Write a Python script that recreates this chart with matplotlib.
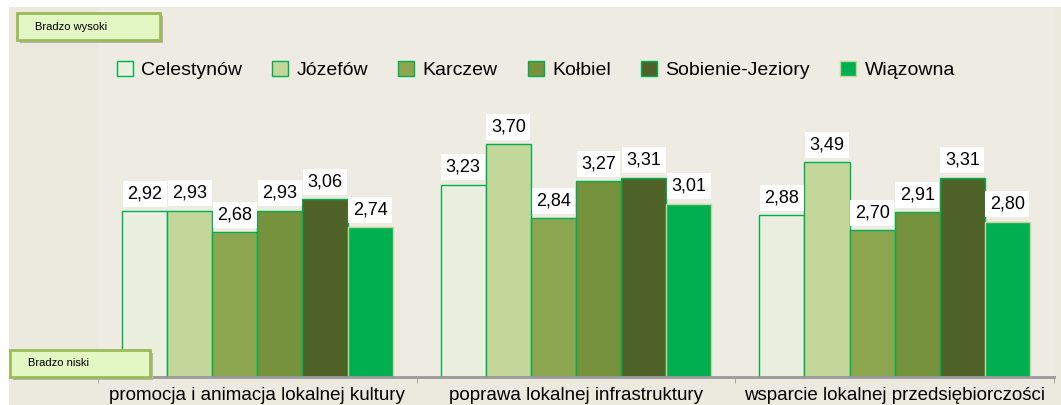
import numpy as np
import matplotlib.pyplot as plt
from matplotlib.patches import Rectangle

plt.rcParams['font.family'] = ['Liberation Sans', 'DejaVu Sans']

categories = ['promocja i animacja lokalnej kultury',
              'poprawa lokalnej infrastruktury',
              'wsparcie lokalnej przedsiębiorczości']
gminy = ['Celestynów', 'Józefów', 'Karczew', 'Kołbiel', 'Sobienie-Jeziory', 'Wiązowna']

celestynow = [2.92, 3.23, 2.88]
jozefow = [2.93, 3.70, 3.49]
karczew = [2.68, 2.84, 2.70]
kolbiel = [2.93, 3.27, 2.91]
sobienie = [3.06, 3.31, 3.31]
wiazowna = [2.74, 3.01, 2.80]

series = [celestynow, jozefow, karczew, kolbiel, sobienie, wiazowna]
colors = ['#EBEFDF', '#C4D79B', '#8CA650', '#76923C', '#4F6228', '#00B050']
edges = ['#00B050', '#00B050', '#00B050', '#00B050', '#00B050', '#C4D79B']

W, H = 1061, 405
fig = plt.figure(figsize=(W / 100, H / 100), dpi=100)
fig.patch.set_facecolor('white')

# beige panel behind everything
fig.patches.append(Rectangle((9 / W, 0), 1 - 9 / W, 1 - 7 / H, transform=fig.transFigure,
                             facecolor='#ECE9DF', edgecolor='none', zorder=-5))

ax = fig.add_axes([98 / W, 28 / H, (1054 - 98) / W, (377 - 8) / H])
ax.set_facecolor('#EEEBE2')

x = np.arange(len(categories))
w = 0.1415
for i, (vals, name) in enumerate(zip(series, gminy)):
    pos = x + (i - 2.5) * w
    ax.bar(pos, np.array(vals) - 1, bottom=1, width=w, color=colors[i],
           edgecolor=edges[i], linewidth=1, label=name, zorder=2)
    for xp, v in zip(pos, vals):
        ax.annotate(f'{v:.2f}'.replace('.', ','), (xp, v), xytext=(0, 12.5),
                    textcoords='offset points', ha='center', va='center',
                    fontsize=13, color='black', zorder=4,
                    bbox=dict(boxstyle='square,pad=0.25', fc='white', ec='none'))

ax.set_xlim(-0.5, 2.5)
ax.set_ylim(1, 5.28)
ax.set_yticks([])
for s in ['left', 'right', 'top']:
    ax.spines[s].set_visible(False)
ax.spines['bottom'].set_color('#9A9A9A')
ax.spines['bottom'].set_linewidth(2)
ax.set_xticks(x)
ax.set_xticklabels(categories, fontsize=13.5)
ax.tick_params(axis='x', which='major', length=0, pad=7)
ax.set_xticks([-0.5, 0.5, 1.5, 2.5], minor=True)
ax.tick_params(axis='x', which='minor', length=4, color='#9A9A9A', direction='out')

fig.legend(loc='center', bbox_to_anchor=(536 / W, 1 - 70 / H), ncol=6, frameon=False,
           fontsize=14, handlelength=0.8, handleheight=0.8, columnspacing=1.55,
           handletextpad=0.45)

# "Bradzo wysoki" / "Bradzo niski" boxes
def label_box(x0, y0, x1, y1, text):
    fig.patches.append(Rectangle(((x0 + 3) / W, 1 - (y1 + 3) / H), (x1 - x0) / W, (y1 - y0) / H,
                                 transform=fig.transFigure, facecolor='#B8B5AA',
                                 edgecolor='none', zorder=5))
    fig.patches.append(Rectangle((x0 / W, 1 - y1 / H), (x1 - x0) / W, (y1 - y0) / H,
                                 transform=fig.transFigure, facecolor='#E2F7C3',
                                 edgecolor='#9BBB59', linewidth=2, zorder=6))
    fig.text((x0 + 18) / W, 1 - (y0 + y1) / 2 / H, text, ha='left', va='center',
             fontsize=8, color='black', zorder=7)

label_box(17, 13, 160, 40, 'Bradzo wysoki')
label_box(10, 350, 150, 377, 'Bradzo niski')

fig.savefig('out.png', dpi=100, facecolor=fig.get_facecolor())
